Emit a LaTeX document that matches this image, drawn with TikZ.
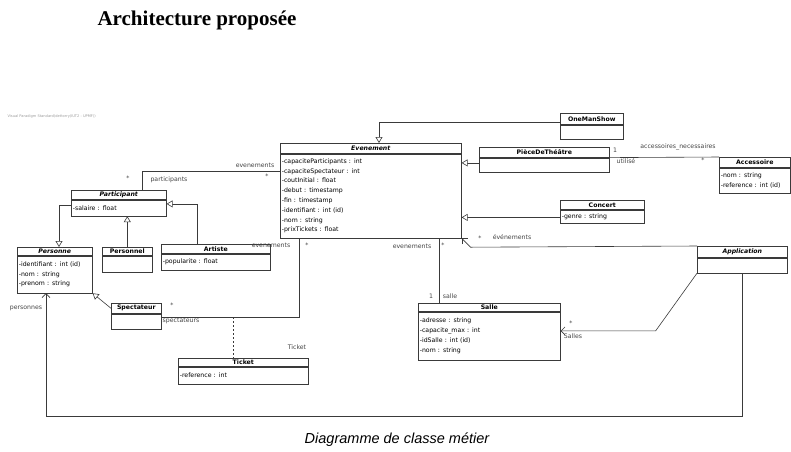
\documentclass[tikz,border=0pt]{standalone}
\usepackage{fontspec}
\setmainfont{Liberation Serif}
\newfontfamily\umlfont{DejaVu Sans}
\newfontfamily\capfont{Liberation Sans}
\usepackage{xcolor}
\usepackage{tikz}
\usetikzlibrary{arrows.meta, positioning, calc}
\definecolor{lineA}{HTML}{3A3A3A}
\definecolor{textA}{HTML}{444444}
\definecolor{grayA}{HTML}{9A9A9A}
\newcommand{\clsfont}{\umlfont\fontsize{6.2}{9.8}\selectfont}
\tikzset{
  clshead/.style={
    draw=lineA, fill=white, line width=0.6pt,
    inner sep=0pt, anchor=north west, font=\clsfont\bfseries
  },
  clsabs/.style={clshead, font=\clsfont\bfseries\itshape},
  clsbody/.style={
    draw=lineA, fill=white, line width=0.6pt, align=left,
    inner xsep=1.5pt, inner ysep=0pt, anchor=north west, font=\clsfont
  },
  gen/.style={-{Triangle[open, length=6pt, width=7pt, fill=white]}, draw=lineA, line width=0.6pt},
  nav/.style={-{Straight Barb[length=4pt, width=8pt]}, draw=lineA, line width=0.6pt},
  assoc/.style={draw=lineA, line width=0.6pt},
  lbl/.style={font=\umlfont\fontsize{6.2}{7}\selectfont, inner sep=0pt, text=textA}
}

\begin{document}
\begin{tikzpicture}[x=1pt, y=-1pt]
  \useasboundingbox (0,0) rectangle (791,451);
  \node[font=\bfseries\fontsize{21}{23}\selectfont] (title) at (197,20) {Architecture proposée};
  \node[font=\umlfont\fontsize{3.6}{4}\selectfont, text=grayA, anchor=west] (vp) at (4,116)
    {Visual Paradigm Standard(dettorry(IUT2 - UPMF))};
  \node[font=\capfont\itshape\fontsize{14.5}{16}\selectfont] (caption) at (397,440) {Diagramme de classe métier};

  % classes
  \node[clsabs, minimum width=181pt, minimum height=10pt] (evtH) at (280,143) {Evenement};
  \node[clsbody, minimum width=181pt, text width=178pt, minimum height=84pt] (evtB) at (evtH.south west)
    {-capaciteParticipants : int\\-capaciteSpectateur : int\\-coutInitial : float\\-debut : timestamp\\
     -fin : timestamp\\-identifiant : int (id)\\-nom : string\\-prixTickets : float};
  \node[clshead, minimum width=63pt, minimum height=11pt] (omsH) at (560,113) {OneManShow};
  \node[clsbody, minimum width=63pt, text width=60pt, minimum height=14pt] (omsB) at (omsH.south west) {};
  \node[clshead, minimum width=130pt, minimum height=10pt] (pdtH) at (479,147) {PièceDeThéâtre};
  \node[clsbody, minimum width=130pt, text width=127pt, minimum height=14pt] (pdtB) at (pdtH.south west) {};
  \node[clshead, minimum width=71pt, minimum height=10pt] (accH) at (719,157) {Accessoire};
  \node[clsbody, minimum width=71pt, text width=68pt, minimum height=25pt] (accB) at (accH.south west)
    {-nom : string\\-reference : int (id)};
  \node[clshead, minimum width=84pt, minimum height=9pt] (conH) at (560,200) {Concert};
  \node[clsbody, minimum width=84pt, text width=81pt, minimum height=13pt] (conB) at (conH.south west)
    {-genre : string};
  \node[clsabs, minimum width=95pt, minimum height=9pt] (parH) at (71,190) {Participant};
  \node[clsbody, minimum width=95pt, text width=92pt, minimum height=16pt] (parB) at (parH.south west)
    {-salaire : float};
  \node[clshead, minimum width=50pt, minimum height=8pt] (pslH) at (102,247) {Personnel};
  \node[clsbody, minimum width=50pt, text width=47pt, minimum height=16pt] (pslB) at (pslH.south west) {};
  \node[clshead, minimum width=109pt, minimum height=9pt] (artH) at (161,244) {Artiste};
  \node[clsbody, minimum width=109pt, text width=106pt, minimum height=16pt] (artB) at (artH.south west)
    {-popularite : float};
  \node[clsabs, minimum width=75pt, minimum height=8pt] (psnH) at (17,247) {Personne};
  \node[clsbody, minimum width=75pt, text width=72pt, minimum height=37pt] (psnB) at (psnH.south west)
    {-identifiant : int (id)\\-nom : string\\-prenom : string};
  \node[clshead, minimum width=50pt, minimum height=10pt] (spcH) at (111,303) {Spectateur};
  \node[clsbody, minimum width=50pt, text width=47pt, minimum height=15pt] (spcB) at (spcH.south west) {};
  \node[clshead, minimum width=130pt, minimum height=8pt] (tktH) at (178,358) {Ticket};
  \node[clsbody, minimum width=130pt, text width=127pt, minimum height=17pt] (tktB) at (tktH.south west)
    {-reference : int};
  \node[clshead, minimum width=142pt, minimum height=8pt] (salH) at (418,303) {Salle};
  \node[clsbody, minimum width=142pt, text width=139pt, minimum height=48pt] (salB) at (salH.south west)
    {-adresse : string\\-capacite\_max : int\\-idSalle : int (id)\\-nom : string};
  \node[clsabs, minimum width=90pt, minimum height=11pt] (appH) at (697,246) {Application};
  \node[clsbody, minimum width=90pt, text width=87pt, minimum height=15pt] (appB) at (appH.south west) {};

  % bend points
  \coordinate (omsG) at ([yshift=2pt]omsH.south west);
  \coordinate (evtO) at ([xshift=99pt]evtH.north west);
  \coordinate (pdtG) at ([yshift=2pt]pdtB.west);
  \coordinate (conG) at ([yshift=-1pt]conB.west);
  \coordinate (parA) at ([xshift=71pt]parH.north west);
  \coordinate (evtP) at ([yshift=-18pt]evtB.north west);
  \coordinate (artG) at ([xshift=36pt]artH.north west);
  \coordinate (parE) at ([yshift=4pt]parB.east);
  \coordinate (parW) at ([yshift=3pt]parB.west);
  \coordinate (psnG) at ([xshift=42pt]psnH.north west);
  \coordinate (spcE) at ([yshift=4pt]spcB.east);
  \coordinate (evtS) at ([xshift=19pt]evtB.south west);
  \coordinate (tktA) at ([xshift=55pt]tktH.north west);
  \coordinate (salT) at ([xshift=21pt]salH.north west);
  \coordinate (evtK) at ([xshift=9pt, yshift=-9pt]evtB.south east);
  \coordinate (salA) at ([yshift=5pt]salB.east);
  \coordinate (appS) at ([xshift=95pt]salA);
  \coordinate (psnA) at ([xshift=29pt]psnB.south west);
  \coordinate (loopY) at (0,416);

  % generalisations
  \draw[gen] (omsG) -| (evtO);
  \draw[gen] (pdtG) -- (pdtG -| evtB.east);
  \draw[gen] (conG) -- (conG -| evtB.east);
  \draw[gen] (pslH.north) -- (pslH.north |- parB.south);
  \draw[gen] (artG) |- (parE);
  \draw[gen] (parW) -| (psnG);
  \draw[gen] (spcH.west) -- (psnB.south east);

  % associations
  \draw[assoc] (pdtH.south east) -- (accH.north west);
  \draw[assoc] (parA) |- (evtP);
  \draw[assoc] (spcE) -| (evtS);
  \draw[assoc, dash pattern=on 2pt off 2pt] (tktA |- spcE) -- (tktA);
  \draw[assoc] (salT |- evtB.south) -- (salT);
  \draw[nav] (appH.north west) -- (evtK) -- (evtB.south east);
  \draw[nav] (appB.south west) -- (appS) -- (salA);
  \draw[nav] (appB.south) -- (appB.south |- loopY) -| (psnA);

  % role names and multiplicities
  \node[lbl] (lEvtP) at (255,165) {evenements};
  \node[lbl] (mEvtP) at (267,176) {*};
  \node[lbl] (mParE) at (128,178) {*};
  \node[lbl] (lParE) at (169,180) {participants};
  \node[lbl] (mPdtA) at (615,150) {1};
  \node[lbl] (lPdtA) at (626,161) {utilisé};
  \node[lbl] (lAccP) at (678,147) {accessoires\_necessaires};
  \node[lbl] (mAccP) at (703,160) {*};
  \node[lbl] (lEvtS) at (271,245) {evenements};
  \node[lbl] (mEvtS) at (307,245) {*};
  \node[lbl] (mSpcE) at (172,305) {*};
  \node[lbl] (lSpcE) at (181,321) {spectateurs};
  \node[lbl] (lTkt) at (297,347) {Ticket};
  \node[lbl] (lEvtL) at (412,246) {evenements};
  \node[lbl] (mEvtL) at (443,245) {*};
  \node[lbl] (mSalE) at (431,296) {1};
  \node[lbl] (lSalE) at (450,296) {salle};
  \node[lbl] (mEvtA) at (480,238) {*};
  \node[lbl] (lEvtA) at (512,237) {événements};
  \node[lbl] (mSalA) at (571,323) {*};
  \node[lbl] (lSalA) at (573,336) {Salles};
  \node[lbl] (lPsnA) at (26,308) {personnes};
\end{tikzpicture}
\end{document}
